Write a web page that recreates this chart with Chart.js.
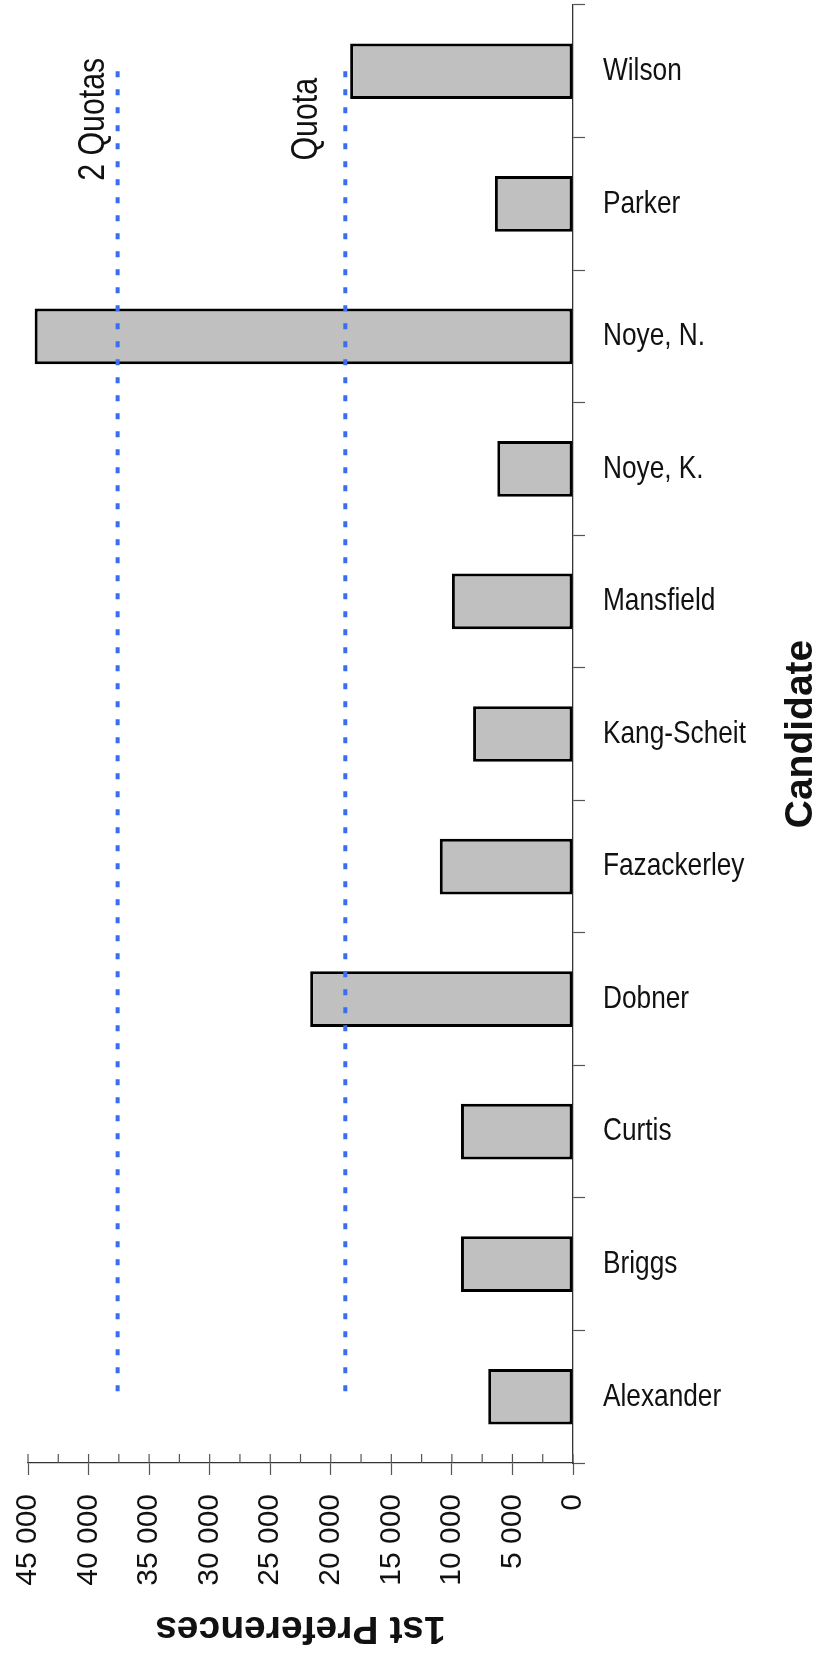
<!DOCTYPE html>
<html>
<head>
<meta charset="utf-8">
<title>1st Preferences by Candidate</title>
<script src="https://cdn.jsdelivr.net/npm/chart.js@4.4.1/dist/chart.umd.min.js"></script>
<style>
    html, body { margin: 0; padding: 0; background: #fff; }
    canvas { display: block; }
</style>
</head>
<body>
<canvas id="grafico" width="823" height="1655"></canvas>
<script>
// dados
const candidates = ['Alexander', 'Briggs', 'Curtis', 'Dobner', 'Fazackerley', 'Kang-Scheit', 'Mansfield', 'Noye, K.', 'Noye, N.', 'Parker', 'Wilson'];
const firstPreferences = [7000, 9250, 9250, 21700, 11000, 8250, 10000, 6250, 44450, 6450, 18400];
const quotaValues = [18800, 37600];
const quotaLabels = ['Quota', '2 Quotas'];
const valueTickLabels = ['0', '5 000', '10 000', '15 000', '20 000', '25 000', '30 000', '35 000', '40 000', '45 000'];

const normalFont = '"Liberation Sans", Arial, sans-serif';
const narrow = 0.82; // não há fonte "Narrow" instalada, então o texto é comprimido

// textos que o Chart.js não desenha do jeito do original
const textosExtras = {
    id: 'textosExtras',
    afterDraw(chart) {
        const { ctx, chartArea, scales } = chart;
        const x = scales.x;
        const y = scales.y;
        ctx.save();

        // marquinhas acima do eixo de valores (a cada 2 500)
        ctx.strokeStyle = '#555';
        ctx.lineWidth = 1.2;
        x.ticks.forEach(t => {
            const px = x.getPixelForValue(t.value);
            ctx.beginPath();
            ctx.moveTo(px, chartArea.bottom - 9);
            ctx.lineTo(px, chartArea.bottom);
            ctx.stroke();
        });

        ctx.fillStyle = '#111';

        // nomes dos candidatos (fonte estreita)
        ctx.font = '32px ' + normalFont;
        ctx.textAlign = 'left';
        ctx.textBaseline = 'middle';
        candidates.forEach((nome, i) => {
            ctx.save();
            ctx.translate(chartArea.right + 30, y.getPixelForValue(i));
            ctx.scale(narrow, 1);
            ctx.fillText(nome, 0, 0);
            ctx.restore();
        });

        // rótulos das cotas
        const gap = [28, 14];
        const labelY = y.getPixelForValue(candidates.length - 1) + 48;
        ctx.font = '37px ' + normalFont;
        ctx.textAlign = 'center';
        ctx.textBaseline = 'alphabetic';
        quotaValues.forEach((q, i) => {
            ctx.save();
            ctx.translate(x.getPixelForValue(q) - gap[i], labelY);
            ctx.rotate(-Math.PI / 2);
            ctx.scale(narrow, 1);
            ctx.fillText(quotaLabels[i], 0, 0);
            ctx.restore();
        });

        // título do eixo de valores (de cabeça para baixo)
        ctx.font = 'bold 39px ' + normalFont;
        ctx.save();
        ctx.translate((chartArea.left + chartArea.right) / 2, 1617);
        ctx.rotate(Math.PI);
        ctx.fillText('1st Preferences', 0, 0);
        ctx.restore();

        // título do eixo de categorias
        ctx.save();
        ctx.translate(812, (chartArea.top + chartArea.bottom) / 2);
        ctx.rotate(-Math.PI / 2);
        ctx.fillText('Candidate', 0, 0);
        ctx.restore();

        ctx.restore();
    }
};

const quotaLine = (value) => ({
    type: 'line',
    data: [
        { x: value, y: candidates[candidates.length - 1] },
        { x: value, y: candidates[0] }
    ],
    borderColor: '#3a6cf4',
    borderWidth: 4,
    borderDash: [6, 12],
    pointRadius: 0,
    fill: false,
    order: 0
});

const contexto = document.getElementById('grafico').getContext('2d');
new Chart(contexto, {
    type: 'bar',
    data: {
        labels: candidates,
        datasets: [
            quotaLine(quotaValues[0]),
            quotaLine(quotaValues[1]),
            {
                label: '1st Preferences',
                data: firstPreferences,
                backgroundColor: '#c0c0c0',
                borderColor: '#000',
                borderWidth: 3,
                borderSkipped: false,
                barPercentage: 0.42,
                categoryPercentage: 1,
                order: 1
            }
        ]
    },
    options: {
        indexAxis: 'y',
        responsive: false,
        animation: false,
        layout: { padding: { left: 28, top: 5, right: 0, bottom: 0 } },
        plugins: {
            legend: { display: false },
            tooltip: { enabled: false }
        },
        scales: {
            x: {
                type: 'linear',
                position: 'bottom',
                reverse: true,
                min: 0,
                max: 45000,
                grid: {
                    drawOnChartArea: false,
                    tickLength: 12,
                    tickWidth: 1.2,
                    tickColor: c => (c.tick && c.tick.value % 5000 === 0 ? '#555' : 'rgba(0,0,0,0)')
                },
                border: { color: '#333', width: 1.3 },
                ticks: {
                    stepSize: 2500,
                    maxTicksLimit: 20,
                    autoSkip: false,
                    minRotation: 90,
                    maxRotation: 90,
                    padding: 19,
                    color: '#111',
                    font: { family: normalFont, size: 30 },
                    callback: v => (v % 5000 === 0 ? valueTickLabels[v / 5000] : '')
                },
                afterFit: s => { s.height = 192; }
            },
            y: {
                type: 'category',
                position: 'right',
                reverse: true,
                offset: true,
                grid: {
                    offset: true,
                    drawOnChartArea: false,
                    tickLength: 12,
                    tickWidth: 1.2,
                    tickColor: '#555'
                },
                border: { color: '#333', width: 1.3 },
                ticks: { display: false },
                afterFit: s => { s.width = 250; }
            }
        }
    },
    plugins: [textosExtras]
});
</script>
</body>
</html>
